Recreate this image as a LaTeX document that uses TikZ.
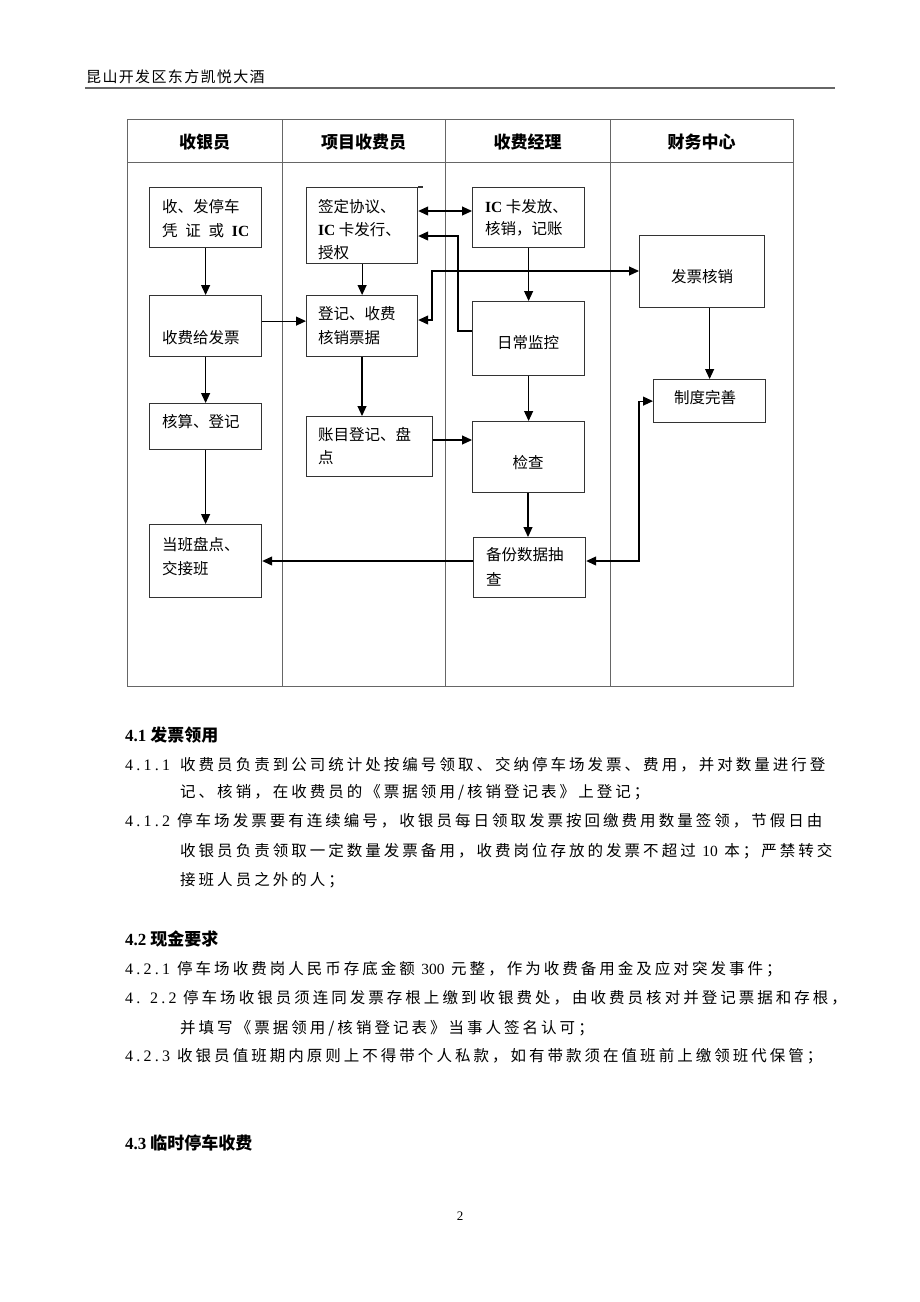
\documentclass[tikz,border=0pt]{standalone}
\usepackage{fontspec}
\setmainfont{Noto Sans CJK SC}
\newfontfamily\bodyf[LetterSpace=19.5]{Noto Sans CJK SC}
\newfontfamily\hdrf[LetterSpace=9]{Noto Sans CJK SC}
\newfontfamily\numf[LetterSpace=20]{Liberation Serif}
\newfontfamily\icf{Liberation Serif}
\usetikzlibrary{arrows.meta}
\begin{document}
\begin{tikzpicture}[x=1pt,y=-1pt,
  tbl/.style={draw=black!60, line width=0.9pt},
  bx/.style={draw=black!80, line width=1.2pt, inner sep=0pt, anchor=north west},
  arr/.style={draw=black, line width=1.1pt, -{Triangle[length=10pt,width=9pt]}},
  dbl/.style={draw=black, line width=1.1pt, {Triangle[length=10pt,width=9pt]}-{Triangle[length=10pt,width=9pt]}},
  hd/.style={font=\bfseries\fontsize{17}{20}\selectfont, inner sep=0pt},
  bt/.style={font=\fontsize{15.5}{23.5}\selectfont, align=left, anchor=west, inner sep=0pt},
  bc/.style={font=\fontsize{15.5}{23.5}\selectfont, inner sep=0pt},
  body/.style={font=\bodyf\fontsize{15.5}{20}\selectfont, anchor=west, inner sep=0pt},
  num/.style={font=\numf\fontsize{16}{20}\selectfont, anchor=west, inner sep=0pt},
  sec/.style={font=\bfseries\fontsize{17}{20}\selectfont, anchor=west, inner sep=0pt}
]
\useasboundingbox[fill=white] (0,0) rectangle (920,1302);

% page header
\node[font=\hdrf\fontsize{15}{18}\selectfont, anchor=west, inner sep=0pt] (ph) at (86,77) {昆山开发区东方凯悦大酒};
\draw[line width=1.8pt, black!60] (85,88) -- (835,88);

% table
\draw[tbl] (127,119) rectangle (793,686);
\draw[tbl] (127,162) -- (793,162);
\draw[tbl] (282,119) -- (282,686);
\draw[tbl] (445,119) -- (445,686);
\draw[tbl] (610,119) -- (610,686);

\node[hd] (h1) at (204.5,142) {收银员};
\node[hd] (h2) at (363.5,142) {项目收费员};
\node[hd] (h3) at (527.5,142) {收费经理};
\node[hd] (h4) at (701.5,142) {财务中心};

% boxes
\node[bx, minimum width=112pt, minimum height=60pt] (A) at (149,187) {};
\node[bx, minimum width=111pt, minimum height=76pt] (B) at (306,187) {};
\node[bx, minimum width=112pt, minimum height=60pt] (C) at (472,187) {};
\node[bx, minimum width=125pt, minimum height=72pt] (D) at (639,235) {};
\node[bx, minimum width=112pt, minimum height=61pt] (E) at (149,295) {};
\node[bx, minimum width=111pt, minimum height=61pt] (F) at (306,295) {};
\node[bx, minimum width=112pt, minimum height=74pt] (G) at (472,301) {};
\node[bx, minimum width=112pt, minimum height=43pt] (H) at (653,379) {};
\node[bx, minimum width=112pt, minimum height=46pt] (I) at (149,403) {};
\node[bx, minimum width=126pt, minimum height=60pt] (J) at (306,416) {};
\node[bx, minimum width=112pt, minimum height=71pt] (K) at (472,421) {};
\node[bx, minimum width=112pt, minimum height=73pt] (L) at (149,524) {};
\node[bx, minimum width=112pt, minimum height=60pt] (M) at (473,537) {};
\draw[draw=black!80, line width=1.2pt] (B.north east) -- ++(5,0);

% box texts
\node[bt, font=\fontsize{15.5}{24}\selectfont] (tA) at (162,219) {收、发停车\\\makebox[87pt][s]{凭 证 或 {\icf\bfseries IC}}};
\node[bt, font=\fontsize{15.5}{23}\selectfont] (tB) at (318,230) {签定协议、\\{\icf\bfseries IC} 卡发行、\\授权};
\node[bt, font=\fontsize{15.5}{22}\selectfont] (tC) at (485,218) {{\icf\bfseries IC} 卡发放、\\核销，记账};
\node[bc] (tD) at (702,277) {发票核销};
\node[bt] (tE) at (162,338) {收费给发票};
\node[bt, font=\fontsize{15.5}{24}\selectfont] (tF) at (318,326) {登记、收费\\核销票据};
\node[bc] (tG) at (528,343) {日常监控};
\node[bc] (tH) at (705,398) {制度完善};
\node[bt] (tI) at (162,422) {核算、登记};
\node[bt, font=\fontsize{15.5}{23}\selectfont] (tJ) at (318,446.5) {账目登记、盘\\点};
\node[bc] (tK) at (528,463) {检查};
\node[bt] (tL) at (162,556.5) {当班盘点、\\交接班};
\node[bt, font=\fontsize{15.5}{25}\selectfont] (tM) at (486,566.5) {备份数据抽\\查};

% helper coordinates
\coordinate (gb1) at (458,331);
\coordinate (gb2) at (458,236);
\coordinate (bc) at (445,211);
\coordinate (df1) at (432,271);
\coordinate (df2) at (432,320);
\coordinate (jk) at (450,440);
\coordinate (mh) at (639,561);

% connectors
\draw[arr] (A) -- (E);
\draw[arr] (E) -- (I);
\draw[arr] (I) -- (L);
\draw[arr] (B) -- (F);
\draw[arr] (F.south -| 362,0) -- (J.north -| 362,0);
\draw[arr] ([yshift=5pt]E.east) -- ([yshift=5pt]E.east -| F.west);
\draw[dbl] (bc -| B.east) -- (bc -| C.west);
\draw[arr] (gb1 -| G.west) -- (gb1) -- (gb2) -- (gb2 -| B.east);
\draw[dbl] (df2 -| F.east) -- (df2) -- (df1) -- (df1 -| D.west);
\draw[arr] (C) -- (G);
\draw[arr] (G) -- (K);
\draw[arr] (jk -| J.east) -- (jk -| K.west);
\draw[arr] (K.south -| 528,0) -- (M.north -| 528,0);
\draw[arr] (M.west |- mh) -- (mh -| L.east);
\draw[arr] (D.south -| H.north) -- (H.north);
\draw[dbl] (mh -| M.east) -- (mh) |- (H.west);

% text body
\node[sec] (s41) at (125,735) {{\icf\bfseries 4.1} 发票领用};
\node[num] (n411) at (125,765) {4.1.1};
\node[body] (b411) at (180,765) {收费员负责到公司统计处按编号领取、交纳停车场发票、费用，并对数量进行登};
\node[body] (b411b) at (180,792) {记、核销，在收费员的《票据领用/核销登记表》上登记；};
\node[num] (n412) at (125,821) {4.1.2};
\node[body] (b412) at (177,821) {停车场发票要有连续编号，收银员每日领取发票按回缴费用数量签领，节假日由};
\node[body] (b412b) at (180,851) {收银员负责领取一定数量发票备用，收费岗位存放的发票不超过 {\icf 10} 本；严禁转交};
\node[body] (b412c) at (180,880) {接班人员之外的人；};

\node[sec] (s42) at (125,939) {{\icf\bfseries 4.2} 现金要求};
\node[num] (n421) at (125,969) {4.2.1};
\node[body] (b421) at (177,969) {停车场收费岗人民币存底金额 {\icf 300} 元整，作为收费备用金及应对突发事件；};
\node[num] (n422a) at (125,998) {4.};
\node[num] (n422b) at (150,998) {2.2};
\node[body] (b422) at (183,998) {停车场收银员须连同发票存根上缴到收银费处，由收费员核对并登记票据和存根，};
\node[body] (b422b) at (180,1028) {并填写《票据领用/核销登记表》当事人签名认可；};
\node[num] (n423) at (125,1056) {4.2.3};
\node[body] (b423) at (177,1056) {收银员值班期内原则上不得带个人私款，如有带款须在值班前上缴领班代保管；};

\node[sec] (s43) at (125,1143) {{\icf\bfseries 4.3} 临时停车收费};

\node[font=\icf\fontsize{13}{15}\selectfont, inner sep=0pt] (pg) at (460,1216) {2};
\end{tikzpicture}
\end{document}
